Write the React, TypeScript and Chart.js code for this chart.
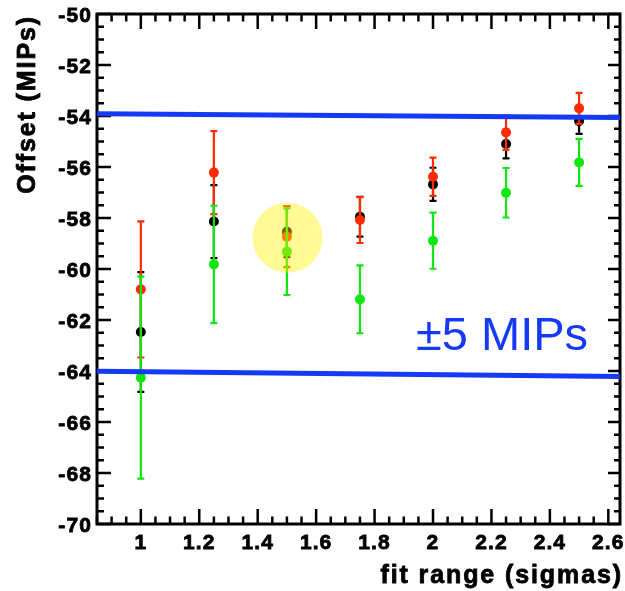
import React, { useEffect, useRef } from 'react';
import { Chart, registerables } from 'chart.js';

Chart.register(...registerables);

// ---- data ----
const fitRanges = [1.0, 1.25, 1.5, 1.75, 2.0, 2.25, 2.5];
const blackOffsets = [-62.47, -58.14, -58.54, -57.95, -56.68, -55.1, -54.2];
const blackErrors = [2.35, 1.43, 1.0, 0.78, 0.65, 0.56, 0.5];
const redOffsets = [-60.8, -56.22, -58.73, -58.08, -56.38, -54.65, -53.7];
const redErrors = [2.67, 1.63, 1.2, 0.9, 0.75, 0.68, 0.61];
const greenOffsets = [-64.26, -59.82, -59.32, -61.19, -58.89, -57.01, -55.82];
const greenErrors = [3.96, 2.3, 1.7, 1.33, 1.1, 0.97, 0.92];

const bandX = [0.85, 2.64];
const upperBand = [-53.91, -54.06];
const lowerBand = [-64.01, -64.22];

const highlightPoint = { x: 1.502, y: -58.77, r: 35 };

const xTickValues = [1, 1.2, 1.4, 1.6, 1.8, 2, 2.2, 2.4, 2.6];
const xTickLabels = ['1', '1.2', '1.4', '1.6', '1.8', '2', '2.2', '2.4', '2.6'];
const yTickValues = [-70, -68, -66, -64, -62, -60, -58, -56, -54, -52, -50];
const yTickLabels = ['-70', '-68', '-66', '-64', '-62', '-60', '-58', '-56', '-54', '-52', '-50'];

const xTitle = 'fit range (sigmas)';
const yTitle = 'Offset (MIPs)';
const bandLabel = '±5 MIPs';
const bandLabelPos = { x: 1.942, y: -63.18 };

const X_MIN = 0.85;
const X_MAX = 2.64;
const Y_MIN = -70;
const Y_MAX = -50;

const BLUE = 'rgb(20,58,245)';
const RED = '#ff2a00';
const GREEN = '#10e610';
const BLACK = '#000000';
const FONT = '"Liberation Sans", Arial, Helvetica, sans-serif';

const errorBarPlugin = {
  id: 'errorBars',
  beforeDatasetDraw(chart: any, args: any) {
    const ds = chart.data.datasets[args.index];
    if (!ds.errors) return;
    const { ctx } = chart;
    const xs = chart.scales.x;
    const ys = chart.scales.y;
    ctx.save();
    ctx.strokeStyle = ds.errorColor;
    ctx.lineWidth = 2.2;
    ds.data.forEach((p: any, i: number) => {
      const px = xs.getPixelForValue(p.x);
      const top = ys.getPixelForValue(p.y + ds.errors[i]);
      const bot = ys.getPixelForValue(p.y - ds.errors[i]);
      ctx.beginPath();
      ctx.moveTo(px, top);
      ctx.lineTo(px, bot);
      ctx.moveTo(px - 3.5, top);
      ctx.lineTo(px + 3.5, top);
      ctx.moveTo(px - 3.5, bot);
      ctx.lineTo(px + 3.5, bot);
      ctx.stroke();
    });
    ctx.restore();
  },
};

const framePlugin = {
  id: 'frame',
  beforeDraw(chart: any) {
    chart.ctx.letterSpacing = '1.1px';
  },
  beforeDatasetsDraw(chart: any) {
    const { ctx, chartArea } = chart;
    const { left, right, top, bottom } = chartArea;
    const xs = chart.scales.x;
    const ys = chart.scales.y;
    ctx.save();
    ctx.strokeStyle = '#000';
    ctx.lineWidth = 2.5;
    ctx.beginPath();
    const xStep = 0.05;
    for (let k = Math.ceil(X_MIN / xStep - 1e-9); k * xStep <= X_MAX + 1e-9; k++) {
      const v = k * xStep;
      const px = xs.getPixelForValue(v);
      const major = k % 4 === 0;
      const len = major ? 15 : 7.5;
      ctx.moveTo(px, bottom);
      ctx.lineTo(px, bottom - len);
      ctx.moveTo(px, top);
      ctx.lineTo(px, top + len);
    }
    const yStep = 0.5;
    for (let k = Math.ceil(Y_MIN / yStep - 1e-9); k * yStep <= Y_MAX + 1e-9; k++) {
      const v = k * yStep;
      const py = ys.getPixelForValue(v);
      const major = k % 4 === 0;
      ctx.moveTo(left, py);
      ctx.lineTo(left + (major ? 14 : 7), py);
      ctx.moveTo(right, py);
      ctx.lineTo(right - (major ? 12 : 6), py);
    }
    ctx.stroke();
    ctx.lineWidth = 3;
    ctx.strokeRect(left, top, right - left, bottom - top);
    ctx.restore();
  },
  afterDraw(chart: any) {
    const { ctx, chartArea } = chart;
    const xs = chart.scales.x;
    const ys = chart.scales.y;
    ctx.save();
    ctx.fillStyle = '#000';
    ctx.strokeStyle = '#000';
    ctx.lineWidth = 0.8;
    ctx.font = `bold 25px ${FONT}`;
    ctx.letterSpacing = '1.9px';
    ctx.textBaseline = 'alphabetic';
    ctx.textAlign = 'right';
    ctx.fillText(xTitle, chartArea.right + 3, 583);
    ctx.strokeText(xTitle, chartArea.right + 3, 583);
    ctx.save();
    ctx.translate(34.5, 15);
    ctx.rotate(-Math.PI / 2);
    ctx.textAlign = 'right';
    ctx.fillText(yTitle, 0, 0);
    ctx.strokeText(yTitle, 0, 0);
    ctx.restore();
    ctx.letterSpacing = '0px';
    ctx.fillStyle = BLUE;
    ctx.font = `47px ${FONT}`;
    ctx.textAlign = 'left';
    ctx.fillText(bandLabel, xs.getPixelForValue(bandLabelPos.x), ys.getPixelForValue(bandLabelPos.y));
    ctx.restore();
  },
};

const zeroPadding = (s: any) => {
  s.paddingTop = 0;
  s.paddingBottom = 0;
  s.paddingLeft = 0;
  s.paddingRight = 0;
};

const toPoints = (ys: number[]) => fitRanges.map((x, i) => ({ x, y: ys[i] }));

export default function App() {
  const ref = useRef<HTMLCanvasElement | null>(null);
  useEffect(() => {
    document.body.style.margin = '0';
    const canvas = ref.current;
    if (!canvas) return;
    const chart = new Chart(canvas, {
      type: 'scatter',
      data: {
        datasets: [
          {
            type: 'line',
            label: '+5 MIPs',
            data: bandX.map((x, i) => ({ x, y: upperBand[i] })),
            borderColor: BLUE,
            borderWidth: 5,
            pointRadius: 0,
            showLine: true,
            order: 0,
          } as any,
          {
            type: 'line',
            label: '-5 MIPs',
            data: bandX.map((x, i) => ({ x, y: lowerBand[i] })),
            borderColor: BLUE,
            borderWidth: 5,
            pointRadius: 0,
            showLine: true,
            order: 0,
          } as any,
          {
            type: 'bubble',
            label: 'highlight',
            data: [highlightPoint],
            backgroundColor: 'rgba(255,242,0,0.42)',
            borderWidth: 0,
            order: 1,
          } as any,
          {
            label: 'green',
            data: toPoints(greenOffsets),
            errors: greenErrors,
            errorColor: GREEN,
            backgroundColor: GREEN,
            borderWidth: 0,
            pointRadius: 5,
            order: 2,
          } as any,
          {
            label: 'red',
            data: toPoints(redOffsets),
            errors: redErrors,
            errorColor: RED,
            backgroundColor: RED,
            borderWidth: 0,
            pointRadius: 5,
            order: 3,
          } as any,
          {
            label: 'black',
            data: toPoints(blackOffsets),
            errors: blackErrors,
            errorColor: BLACK,
            backgroundColor: BLACK,
            borderWidth: 0,
            pointRadius: 5,
            order: 4,
          } as any,
        ],
      },
      options: {
        animation: false,
        responsive: false,
        events: [],
        layout: { autoPadding: false, padding: { top: 14, right: 5, left: 0, bottom: 0 } },
        plugins: { legend: { display: false }, tooltip: { enabled: false } },
        scales: {
          x: {
            type: 'linear',
            min: X_MIN,
            max: X_MAX,
            grid: { display: false, drawTicks: false },
            border: { display: false },
            afterBuildTicks: (s: any) => {
              s.ticks = xTickValues.map((value) => ({ value }));
            },
            ticks: {
              padding: 7,
              color: '#000',
              textStrokeColor: '#000',
              textStrokeWidth: 0.8,
              font: { family: FONT, size: 21, weight: 'bold' },
              maxRotation: 0,
              autoSkip: false,
              callback: (v: any) => {
                const i = xTickValues.findIndex((t) => Math.abs(t - v) < 1e-9);
                return i >= 0 ? xTickLabels[i] : '';
              },
            },
            afterFit: (s: any) => {
              s.height = 67;
              zeroPadding(s);
            },
          },
          y: {
            type: 'linear',
            min: Y_MIN,
            max: Y_MAX,
            grid: { display: false, drawTicks: false },
            border: { display: false },
            afterBuildTicks: (s: any) => {
              s.ticks = yTickValues.map((value) => ({ value }));
            },
            ticks: {
              padding: 5,
              labelOffset: 2,
              color: '#000',
              textStrokeColor: '#000',
              textStrokeWidth: 0.8,
              font: { family: FONT, size: 21, weight: 'bold' },
              autoSkip: false,
              callback: (v: any) => {
                const i = yTickValues.findIndex((t) => Math.abs(t - v) < 1e-9);
                return i >= 0 ? yTickLabels[i] : '';
              },
            },
            afterFit: (s: any) => {
              s.width = 97;
              zeroPadding(s);
            },
          },
        },
      } as any,
      plugins: [framePlugin, errorBarPlugin],
    });
    return () => chart.destroy();
  }, []);
  return (
    <div style={{ width: 625, height: 591, background: '#fff' }}>
      <canvas ref={ref} width={625} height={591} style={{ display: 'block' }} />
    </div>
  );
}
